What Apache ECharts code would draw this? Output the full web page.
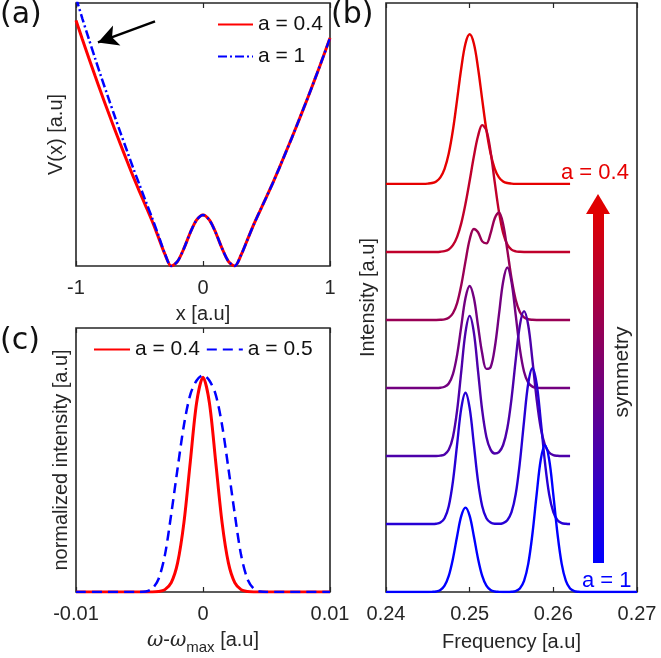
<!DOCTYPE html>
<html>
<head>
<meta charset="utf-8">
<script src="https://cdn.jsdelivr.net/npm/echarts@6/dist/echarts.min.js"></script>
<style>
html, body { margin: 0; padding: 0; background: #fff; }
#chart { width: 661px; height: 658px; }
</style>
</head>
<body>
<div id="chart"></div>
<script>
// ---- (a) potential V(x) ----
const xPot = [-1, -0.95, -0.9, -0.85, -0.8, -0.75, -0.7, -0.65, -0.6, -0.55, -0.5, -0.45, -0.4, -0.35, -0.3, -0.25,
  -0.2, -0.15, -0.1, -0.05, 0, 0.05, 0.1, 0.15, 0.2, 0.25, 0.3, 0.35, 0.4, 0.45, 0.5, 0.55, 0.6, 0.65, 0.7, 0.75,
  0.8, 0.85, 0.9, 0.95, 1];
const vRed = [0.934, 0.862, 0.792, 0.723, 0.656, 0.590, 0.526, 0.463, 0.401, 0.341, 0.283, 0.227, 0.170, 0.108, 0.045, 0,
  0.018, 0.067, 0.127, 0.175, 0.194, 0.175, 0.127, 0.067, 0.018, 0, 0.042, 0.100, 0.158, 0.211, 0.263, 0.316, 0.372,
  0.430, 0.488, 0.548, 0.609, 0.671, 0.735, 0.800, 0.867];
const vBlue = [1.020, 0.941, 0.865, 0.790, 0.717, 0.646, 0.576, 0.507, 0.440, 0.373, 0.309, 0.245, 0.182, 0.115, 0.047, 0,
  0.018, 0.067, 0.127, 0.175, 0.194, 0.175, 0.127, 0.067, 0.018, 0, 0.042, 0.100, 0.158, 0.211, 0.263, 0.316, 0.372,
  0.430, 0.488, 0.548, 0.609, 0.671, 0.735, 0.800, 0.867];

// ---- (b) spectra, stacked with an offset ----
const freq = [0.24, 0.244, 0.2445, 0.245, 0.2455, 0.246, 0.2465, 0.247, 0.2475, 0.248, 0.2485, 0.249, 0.2495, 0.25,
  0.2505, 0.251, 0.2515, 0.252, 0.2525, 0.253, 0.2535, 0.254, 0.2545, 0.255, 0.2555, 0.256, 0.2565, 0.257, 0.2575,
  0.258, 0.2585, 0.259, 0.2595, 0.26, 0.2605, 0.261, 0.2615, 0.262];
const freqTail = [0.2625, 0.263, 0.2635, 0.27];
const spec1 = [0, 0, 0, 0.004, 0.013, 0.037, 0.097, 0.222, 0.447, 0.792, 1.239, 1.705, 2.064, 2.2, 2.064, 1.705, 1.239,
  0.792, 0.447, 0.222, 0.097, 0.037, 0.013, 0.004, 0, 0, 0, 0, 0, 0, 0, 0, 0, 0, 0, 0, 0, 0];
const spec2 = [0, 0, 0, 0, 0, 0, 0.003, 0.012, 0.037, 0.099, 0.221, 0.423, 0.707, 1.046, 1.403, 1.704, 1.864, 1.789,
  1.475, 1.022, 0.590, 0.279, 0.109, 0.034, 0.009, 0.002, 0, 0, 0, 0, 0, 0, 0, 0, 0, 0, 0, 0];
const spec3 = [0, 0, 0, 0, 0, 0, 0.002, 0.008, 0.032, 0.098, 0.248, 0.514, 0.861, 1.183, 1.338, 1.29, 1.155, 1.126,
  1.273, 1.496, 1.582, 1.406, 1.027, 0.612, 0.296, 0.117, 0.038, 0.010, 0.002, 0, 0, 0, 0, 0, 0, 0, 0, 0];
const spec4 = [0, 0, 0, 0, 0, 0, 0.003, 0.017, 0.066, 0.203, 0.487, 0.910, 1.324, 1.5, 1.325, 0.914, 0.507, 0.281,
  0.305, 0.592, 1.077, 1.562, 1.77, 1.562, 1.074, 0.575, 0.239, 0.078, 0.020, 0.004, 0, 0, 0, 0, 0, 0, 0, 0];
const spec5 = [0, 0, 0, 0, 0, 0, 0.005, 0.023, 0.090, 0.279, 0.669, 1.249, 1.818, 2.06, 1.818, 1.249, 0.669, 0.279,
  0.093, 0.036, 0.057, 0.161, 0.407, 0.841, 1.408, 1.921, 2.13, 1.921, 1.408, 0.841, 0.407, 0.161, 0.052, 0.013,
  0.003, 0, 0, 0];
const spec6 = [0, 0, 0, 0, 0, 0.004, 0.021, 0.085, 0.261, 0.627, 1.171, 1.703, 1.93, 1.703, 1.171, 0.627, 0.261, 0.085,
  0.021, 0.004, 0.003, 0.014, 0.056, 0.173, 0.437, 0.905, 1.514, 2.066, 2.29, 2.066, 1.514, 0.905, 0.437, 0.173,
  0.056, 0.014, 0.003, 0];
const spec7 = [0, 0, 0, 0, 0.002, 0.008, 0.030, 0.094, 0.237, 0.490, 0.820, 1.118, 1.24, 1.118, 0.820, 0.490, 0.237,
  0.094, 0.030, 0.008, 0.002, 0, 0, 0.003, 0.014, 0.052, 0.163, 0.413, 0.853, 1.428, 1.948, 2.16, 1.948, 1.428,
  0.853, 0.413, 0.163, 0.052];
const spec7Tail = [0.014, 0.003, 0, 0];
const specOffsets = [6, 5, 4, 3, 2, 1, 0];
const specColors = ['#e60000', '#c0002b', '#990055', '#730080', '#4d00aa', '#2600d5', '#0000ff'];

// ---- (c) normalized line shapes ----
const dOmega = [-0.01, -0.005, -0.0045, -0.004, -0.0035, -0.003, -0.0025, -0.002, -0.0015, -0.001, -0.0005, 0,
  0.0005, 0.001, 0.0015, 0.002, 0.0025, 0.003, 0.0035, 0.004, 0.0045, 0.005, 0.01];
const iRed = [0, 0, 0, 0, 0.002, 0.011, 0.043, 0.134, 0.321, 0.600, 0.874, 0.99, 0.874, 0.600, 0.321, 0.134, 0.043,
  0.011, 0.002, 0, 0, 0, 0];
const iBlue = [0, 0, 0.002, 0.015, 0.06, 0.17, 0.36, 0.57, 0.77, 0.91, 0.975, 1.0, 0.975, 0.91, 0.77, 0.57, 0.36,
  0.17, 0.06, 0.015, 0.002, 0, 0];

const pairs = (xs, ys, off) => xs.map((x, i) => [x, ys[i] + (off || 0)]);

const ink = '#262626';
const font = 'Liberation Sans';
const tick = { show: true, inside: true, length: 5, lineStyle: { color: ink, width: 1.2 } };
const label = { fontSize: 20, fontFamily: font, color: ink, margin: 12 };
const nameStyle = { fontSize: 20, fontFamily: font, color: ink };
const gridStyle = { show: true, borderColor: ink, borderWidth: 1.6, backgroundColor: 'transparent' };

function xPair(grid, min, max, interval, name, gap, extra) {
  return [
    Object.assign({
      type: 'value', gridIndex: grid, position: 'bottom', min, max, interval,
      name, nameLocation: 'middle', nameGap: gap, nameTextStyle: nameStyle,
      axisLine: { show: false }, axisTick: tick, axisLabel: label, splitLine: { show: false }
    }, extra || {}),
    {
      type: 'value', gridIndex: grid, position: 'top', min, max, interval,
      axisLine: { show: false }, axisTick: tick, axisLabel: { show: false }, splitLine: { show: false }
    }
  ];
}
function yAx(grid, max, name, gap) {
  return {
    type: 'value', gridIndex: grid, min: 0, max, name, nameLocation: 'middle', nameGap: gap,
    nameTextStyle: nameStyle, axisLine: { show: false }, axisTick: { show: false },
    axisLabel: { show: false }, splitLine: { show: false }
  };
}

const specs = [spec1, spec2, spec3, spec4, spec5, spec6, spec7];
const specSeries = specs.map((s, k) => ({
  name: 'spectrum ' + (k + 1), type: 'line', xAxisIndex: 2, yAxisIndex: 1, symbol: 'none', smooth: 0.35,
  lineStyle: { color: specColors[k], width: 2.4 }, z: 3 + k,
  data: k === 6 ? pairs(freq.concat(freqTail), s.concat(spec7Tail), specOffsets[k]) : pairs(freq, s, specOffsets[k])
}));

const legendText = { fontSize: 21, fontFamily: font, color: '#111' };

const option = {
  animation: false,
  textStyle: { fontFamily: font },
  grid: [
    Object.assign({ left: 76, top: 3, width: 254, height: 263 }, gridStyle),
    Object.assign({ left: 386, top: 3, width: 251, height: 589 }, gridStyle),
    Object.assign({ left: 76, top: 328, width: 254, height: 264 }, gridStyle)
  ],
  xAxis: [].concat(
    xPair(0, -1, 1, 1, 'x [a.u]', 38),
    xPair(1, 0.24, 0.27, 0.01, 'Frequency [a.u]', 40),
    xPair(2, -0.01, 0.01, 0.01, '{w|ω}{n|-}{w|ω}{s|max}{n| [a.u]}', 34, {
      nameTextStyle: Object.assign({}, nameStyle, {
        rich: {
          w: { fontSize: 20, fontFamily: 'DejaVu Serif', fontStyle: 'italic', color: ink },
          n: { fontSize: 20, fontFamily: font, color: ink },
          s: { fontSize: 15, fontFamily: font, color: ink, padding: [14, 0, 0, 0] }
        }
      })
    })
  ),
  yAxis: [
    yAx(0, 1, 'V(x) [a.u]', 10),
    yAx(1, 8.66, 'Intensity [a.u]', 8),
    yAx(2, 1.217, 'normalized intensity [a.u]', 5)
  ],
  legend: [
    {
      data: ['a = 0.4', 'a = 1'], orient: 'vertical', left: 212, top: 9, itemWidth: 35, itemHeight: 12, itemGap: 11,
      itemStyle: { opacity: 0 }, textStyle: legendText, selectedMode: false
    },
    {
      data: ['a = 0.4', 'a = 0.5'], orient: 'horizontal', left: 88, top: 334, itemWidth: 36, itemHeight: 12, itemGap: 6,
      itemStyle: { opacity: 0 }, textStyle: legendText, selectedMode: false
    }
  ],
  series: [
    {
      name: 'a = 0.4', type: 'line', xAxisIndex: 0, yAxisIndex: 0, symbol: 'none', smooth: 0.3,
      itemStyle: { color: '#ff0000' }, lineStyle: { color: '#ff0000', width: 3 }, data: pairs(xPot, vRed),
      markLine: {
        silent: true, symbol: ['none', 'arrow'], symbolSize: [16, 20], label: { show: false },
        lineStyle: { color: '#000', width: 2.5, type: 'solid' },
        data: [[{ coord: [-0.378, 0.93] }, { coord: [-0.827, 0.85] }]]
      }
    },
    {
      name: 'a = 1', type: 'line', xAxisIndex: 0, yAxisIndex: 0, symbol: 'none', smooth: 0.3,
      itemStyle: { color: '#0000ff' }, lineStyle: { color: '#0000ff', width: 2.5, type: [9, 3, 2, 3] },
      data: pairs(xPot, vBlue)
    },
    ...specSeries,
    {
      name: 'a = 0.4', type: 'line', xAxisIndex: 4, yAxisIndex: 2, symbol: 'none', smooth: 0.3,
      itemStyle: { color: '#ff0000' }, lineStyle: { color: '#ff0000', width: 3 }, data: pairs(dOmega, iRed)
    },
    {
      name: 'a = 0.5', type: 'line', xAxisIndex: 4, yAxisIndex: 2, symbol: 'none', smooth: 0.3,
      itemStyle: { color: '#0000ff' }, lineStyle: { color: '#0000ff', width: 2.5, type: [10, 6] },
      data: pairs(dOmega, iBlue)
    }
  ],
  graphic: [
    { type: 'text', left: 0, top: 0, style: { text: '(a)', font: '30px "DejaVu Sans"', fill: '#111' } },
    { type: 'text', left: 331, top: 0, style: { text: '(b)', font: '30px "DejaVu Sans"', fill: '#111' } },
    { type: 'text', left: 0, top: 326, style: { text: '(c)', font: '30px "DejaVu Sans"', fill: '#111' } },
    { type: 'text', left: 561, top: 162, style: { text: 'a = 0.4', font: '22px "Liberation Sans"', fill: '#e60000' } },
    { type: 'text', left: 582, top: 570, style: { text: 'a = 1', font: '22px "Liberation Sans"', fill: '#0000ff' } },
    {
      type: 'text', x: 622, y: 372, rotation: Math.PI / 2,
      style: { text: 'symmetry', font: '21px "Liberation Sans"', fill: ink, align: 'center', verticalAlign: 'middle' }
    },
    {
      type: 'rect', shape: { x: 593, y: 212, width: 11, height: 351 },
      style: {
        fill: new echarts.graphic.LinearGradient(0, 0, 0, 1, [
          { offset: 0, color: '#e00000' }, { offset: 1, color: '#0000ff' }
        ])
      }
    },
    { type: 'polygon', shape: { points: [[586, 214], [610, 214], [598, 194]] }, style: { fill: '#e00000' } }
  ]
};

const chart = echarts.init(document.getElementById('chart'));
chart.setOption(option);
window.addEventListener('resize', () => chart.resize());
</script>
</body>
</html>
